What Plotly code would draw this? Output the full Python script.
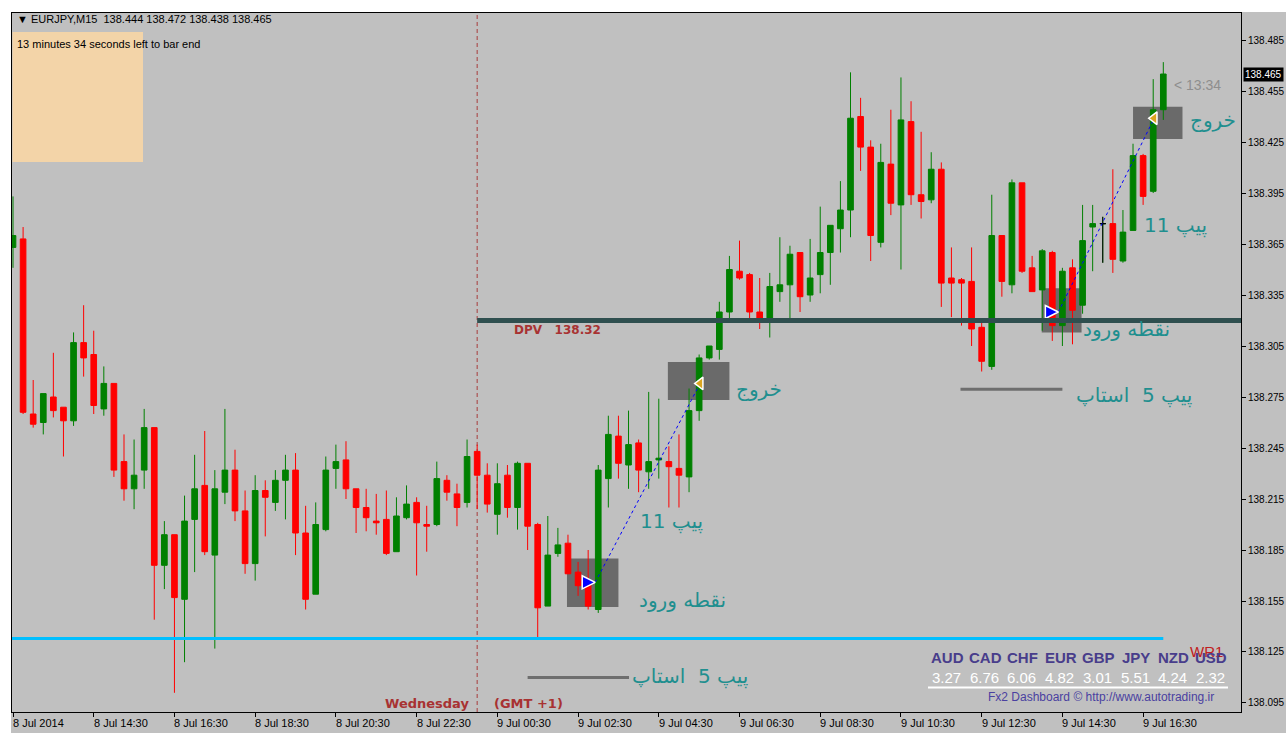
import plotly.graph_objects as go

# ---------------- data ----------------
bar_index = list(range(115))
open_ = [138.363, 138.368, 138.265, 138.260, 138.275, 138.269, 138.261, 138.307, 138.300, 138.268,
         138.283, 138.237, 138.221, 138.232, 138.257, 138.176, 138.194, 138.156, 138.203, 138.223,
         138.182, 138.219, 138.232, 138.208, 138.177, 138.220, 138.213, 138.226, 138.232, 138.195,
         138.159, 138.197, 138.233, 138.238, 138.221, 138.210, 138.202, 138.203, 138.184, 138.204,
         138.213, 138.200, 138.200, 138.226, 138.218, 138.213, 138.243, 138.229, 138.206, 138.229,
         138.210, 138.236, 138.200, 138.152, 138.183, 138.189, 138.172, 138.166, 138.150, 138.227,
         138.252, 138.235, 138.248, 138.231, 138.238, 138.237, 138.233, 138.228, 138.267, 138.298,
         138.303, 138.325, 138.349, 138.347, 138.325, 138.321, 138.337, 138.341, 138.360, 138.335,
         138.347, 138.360, 138.374, 138.385, 138.440, 138.422, 138.366, 138.412, 138.388, 138.437,
         138.394, 138.391, 138.409, 138.345, 138.344, 138.343, 138.316, 138.293, 138.370, 138.341,
         138.401, 138.351, 138.338, 138.360, 138.317, 138.351, 138.329, 138.375, 138.377, 138.377,
         138.355, 138.373, 138.417, 138.396, 138.444]
high = [138.393, 138.375, 138.285, 138.277, 138.301, 138.269, 138.313, 138.329, 138.314, 138.293,
        138.283, 138.253, 138.250, 138.268, 138.257, 138.202, 138.194, 138.217, 138.241, 138.255,
        138.232, 138.268, 138.244, 138.220, 138.229, 138.226, 138.232, 138.241, 138.242, 138.211,
        138.213, 138.240, 138.247, 138.249, 138.221, 138.221, 138.218, 138.220, 138.216, 138.223,
        138.216, 138.211, 138.237, 138.229, 138.224, 138.250, 138.247, 138.236, 138.236, 138.235,
        138.237, 138.236, 138.201, 138.205, 138.198, 138.194, 138.178, 138.185, 138.235, 138.264,
        138.264, 138.267, 138.250, 138.278, 138.274, 138.246, 138.253, 138.280, 138.300, 138.305,
        138.331, 138.358, 138.367, 138.348, 138.345, 138.348, 138.369, 138.364, 138.360, 138.368,
        138.387, 138.376, 138.402, 138.466, 138.451, 138.426, 138.424, 138.444, 138.463, 138.449,
        138.431, 138.419, 138.413, 138.363, 138.345, 138.363, 138.319, 138.394, 138.370, 138.403,
        138.401, 138.358, 138.362, 138.361, 138.351, 138.356, 138.388, 138.388, 138.381, 138.409,
        138.385, 138.424, 138.418, 138.462, 138.472]
low = [138.351, 138.265, 138.257, 138.253, 138.263, 138.240, 138.258, 138.287, 138.265, 138.264,
       138.228, 138.214, 138.209, 138.221, 138.144, 138.162, 138.101, 138.119, 138.172, 138.182,
       138.127, 138.212, 138.202, 138.171, 138.167, 138.193, 138.208, 138.203, 138.182, 138.150,
       138.159, 138.196, 138.221, 138.215, 138.195, 138.196, 138.194, 138.182, 138.184, 138.203,
       138.170, 138.184, 138.199, 138.214, 138.199, 138.210, 138.209, 138.207, 138.194, 138.204,
       138.197, 138.185, 138.133, 138.152, 138.181, 138.171, 138.158, 138.150, 138.148, 138.210,
       138.227, 138.221, 138.219, 138.221, 138.227, 138.210, 138.210, 138.219, 138.261, 138.297,
       138.297, 138.319, 138.344, 138.321, 138.315, 138.310, 138.331, 138.320, 138.325, 138.331,
       138.336, 138.341, 138.360, 138.369, 138.408, 138.355, 138.363, 138.382, 138.350, 138.388,
       138.380, 138.389, 138.328, 138.322, 138.317, 138.305, 138.290, 138.291, 138.334, 138.336,
       138.348, 138.337, 138.314, 138.308, 138.305, 138.306, 138.324, 138.349, 138.354, 138.348,
       138.354, 138.373, 138.388, 138.395, 138.438]
close = [138.370, 138.266, 138.259, 138.277, 138.267, 138.261, 138.307, 138.298, 138.270, 138.283,
         138.232, 138.221, 138.229, 138.257, 138.176, 138.194, 138.157, 138.202, 138.221, 138.184,
         138.221, 138.232, 138.208, 138.177, 138.220, 138.216, 138.226, 138.232, 138.195, 138.156,
         138.200, 138.232, 138.237, 138.221, 138.210, 138.204, 138.201, 138.183, 138.205, 138.212,
         138.201, 138.199, 138.227, 138.219, 138.210, 138.240, 138.229, 138.212, 138.224, 138.210,
         138.236, 138.199, 138.151, 138.182, 138.188, 138.171, 138.164, 138.152, 138.232, 138.253,
         138.236, 138.247, 138.232, 138.237, 138.239, 138.234, 138.229, 138.267, 138.298, 138.305,
         138.325, 138.350, 138.345, 138.325, 138.321, 138.340, 138.341, 138.359, 138.334, 138.345,
         138.360, 138.376, 138.385, 138.439, 138.422, 138.370, 138.413, 138.389, 138.438, 138.394,
         138.390, 138.409, 138.342, 138.342, 138.342, 138.315, 138.296, 138.370, 138.343, 138.401,
         138.349, 138.337, 138.361, 138.317, 138.349, 138.326, 138.367, 138.377, 138.377, 138.356,
         138.372, 138.417, 138.393, 138.444, 138.465]
doji_bars = [108]

tick_bars = [0, 8, 16, 24, 32, 40, 48, 56, 64, 72, 80, 88, 96, 104, 112]
tick_labels = ["8 Jul 2014", "8 Jul 14:30", "8 Jul 16:30", "8 Jul 18:30", "8 Jul 20:30",
               "8 Jul 22:30", "9 Jul 00:30", "9 Jul 02:30", "9 Jul 04:30", "9 Jul 06:30",
               "9 Jul 08:30", "9 Jul 10:30", "9 Jul 12:30", "9 Jul 14:30", "9 Jul 16:30"]
price_ticks = [138.485, 138.455, 138.425, 138.395, 138.365, 138.335, 138.305,
               138.275, 138.245, 138.215, 138.185, 138.155, 138.125, 138.095]

current_price = 138.465
dpv_level = 138.32
dpv_start_bar = 46
wr1_level = 138.133
wr1_end_bar = 114
day_separator_bar = 46

entry_bars = [57.7, 103.6]
entry_prices = [138.166, 138.325]
exit_bars = [68.1, 113.1]
exit_prices = [138.283, 138.439]
entry_box_bars = [(54.9, 60.0), (101.95, 105.9)]
entry_box_prices = [(138.1515, 138.180), (138.313, 138.339)]
exit_box_bars = [(64.9, 71.0), (111.0, 115.9)]
exit_box_prices = [(138.2732, 138.2956), (138.4268, 138.4458)]
stop_bars = [(51.0, 61.05), (93.9, 104.0)]
stop_prices = [138.110, 138.2795]

currencies = ["AUD", "CAD", "CHF", "EUR", "GBP", "JPY", "NZD", "USD"]
strengths = [3.27, 6.76, 6.06, 4.82, 3.01, 5.51, 4.24, 2.32]

# ---------------- geometry helpers (pixel -> paper) ----------------
W, H = 1286, 733
L, R, T, B = 12, 45, 13, 21
PW, PH = W - L - R, H - T - B


def px(x):
    return (x - L) / PW


def py(y):
    return (H - B - y) / PH


fig = go.Figure()

fig.add_trace(go.Candlestick(
    x=bar_index, open=open_, high=high, low=low, close=close,
    increasing=dict(line=dict(color="#008000", width=1), fillcolor="#008000"),
    decreasing=dict(line=dict(color="#ff0000", width=1), fillcolor="#ff0000"),
    whiskerwidth=0, hoverinfo="skip", showlegend=False))

fig.add_trace(go.Candlestick(
    x=[bar_index[i] for i in doji_bars], open=[open_[i] for i in doji_bars],
    high=[high[i] for i in doji_bars], low=[low[i] for i in doji_bars],
    close=[close[i] for i in doji_bars],
    increasing=dict(line=dict(color="#000000", width=1), fillcolor="#000000"),
    decreasing=dict(line=dict(color="#000000", width=1), fillcolor="#000000"),
    whiskerwidth=0, hoverinfo="skip", showlegend=False))

# trade lines
for eb, ep, xb, xp in zip(entry_bars, entry_prices, exit_bars, exit_prices):
    fig.add_trace(go.Scatter(x=[eb, xb], y=[ep, xp], mode="lines",
                             line=dict(color="#0000ff", width=1, dash="dot"),
                             hoverinfo="skip", showlegend=False))
fig.add_trace(go.Scatter(x=entry_bars, y=entry_prices, mode="markers",
                         marker=dict(symbol="arrow-right", size=13, color="#0000ff",
                                     line=dict(color="white", width=1.5)),
                         hoverinfo="skip", showlegend=False))
fig.add_trace(go.Scatter(x=exit_bars, y=exit_prices, mode="markers",
                         marker=dict(symbol="triangle-left", size=11, color="#daa520",
                                     line=dict(color="white", width=1.5)),
                         hoverinfo="skip", showlegend=False))

shapes = []
# white outer strips
shapes.append(dict(type="rect", xref="paper", yref="paper", x0=px(0), x1=px(W), y0=py(12), y1=py(0),
                   fillcolor="white", line=dict(width=0), layer="above"))
shapes.append(dict(type="rect", xref="paper", yref="paper", x0=px(0), x1=px(11), y0=py(H), y1=py(0),
                   fillcolor="white", line=dict(width=0), layer="above"))
# peach panel
shapes.append(dict(type="rect", xref="paper", yref="paper", x0=px(12.5), x1=px(143), y0=py(162), y1=py(32),
                   fillcolor="#f3d4a8", line=dict(width=0), layer="above"))
# trade boxes
for (b0, b1), (p0, p1) in zip(entry_box_bars + exit_box_bars, entry_box_prices + exit_box_prices):
    shapes.append(dict(type="rect", xref="x", yref="y", x0=b0, x1=b1, y0=p0, y1=p1,
                       fillcolor="#6a6a6a", line=dict(width=0), layer="below"))
# day separator
shapes.append(dict(type="line", xref="x", yref="paper", x0=day_separator_bar, x1=day_separator_bar,
                   y0=0, y1=1, line=dict(color="#a83c3c", width=1, dash="4px,3px"), layer="below"))
# DPV line
shapes.append(dict(type="line", xref="x", yref="y", x0=dpv_start_bar, x1=121.8, y0=dpv_level, y1=dpv_level,
                   line=dict(color="#2f4f4f", width=5), layer="above"))
# WR1 line
shapes.append(dict(type="line", xref="x", yref="y", x0=-0.2, x1=wr1_end_bar, y0=wr1_level, y1=wr1_level,
                   line=dict(color="#00bfff", width=3), layer="above"))
# stop lines
for (b0, b1), p in zip(stop_bars, stop_prices):
    shapes.append(dict(type="line", xref="x", yref="y", x0=b0, x1=b1, y0=p, y1=p,
                       line=dict(color="#6e6e6e", width=3), layer="above"))
# dashboard underline
shapes.append(dict(type="line", xref="paper", yref="paper", x0=px(928), x1=px(1228), y0=py(687.5), y1=py(687.5),
                   line=dict(color="white", width=2), layer="above"))

ann = []
LIB = "Liberation Sans"
# x tick labels
for b, t in zip(tick_bars, tick_labels):
    ann.append(dict(x=b, xref="x", y=0, yref="paper", yanchor="top", xanchor="left", xshift=-2, yshift=-3,
                    text=t, showarrow=False, font=dict(family=LIB, size=11, color="black")))
# current price tag
ann.append(dict(x=1, xref="paper", y=current_price, yref="y", xanchor="left", yanchor="middle", xshift=2,
                text=f"{current_price:.3f}", showarrow=False, bgcolor="black", borderpad=1,
                font=dict(family=LIB, size=10, color="white")))
# header
ann.append(dict(x=px(15), y=py(19), xref="paper", yref="paper", xanchor="left", yanchor="middle",
                text="▼ EURJPY,M15\u00a0\u00a0138.444 138.472 138.438 138.465", showarrow=False,
                font=dict(family=LIB, size=11, color="black")))
ann.append(dict(x=px(15), y=py(44), xref="paper", yref="paper", xanchor="left", yanchor="middle",
                text="13 minutes 34 seconds left to bar end", showarrow=False,
                font=dict(family=LIB, size=11, color="black")))
# countdown
ann.append(dict(x=px(1172), y=py(85), xref="paper", yref="paper", xanchor="left", yanchor="middle",
                text="< 13:34", showarrow=False, font=dict(family=LIB, size=14, color="#8e8e8e")))
# DPV label
ann.append(dict(x=px(512), y=py(330), xref="paper", yref="paper", xanchor="left", yanchor="middle",
                text="DPV\u00a0\u00a0\u00a0138.32", showarrow=False,
                font=dict(family="DejaVu Sans", size=12, color="#a83232", weight="bold")))
# day separator labels
ann.append(dict(x=day_separator_bar, xref="x", y=py(703), yref="paper", xanchor="right", yanchor="middle",
                xshift=-6, text="Wednesday", showarrow=False,
                font=dict(family="DejaVu Sans", size=13, color="#a83232", weight="bold")))
ann.append(dict(x=day_separator_bar, xref="x", y=py(703), yref="paper", xanchor="left", yanchor="middle",
                xshift=15, text="(GMT +1)", showarrow=False,
                font=dict(family="DejaVu Sans", size=13, color="#a83232", weight="bold")))
# Persian trade labels
TEAL = "#1f8f8f"
persian = [("خروج", 759, 389), ("پیپ 11", 671, 521), ("نقطه ورود", 682, 600), ("پیپ 5  استاپ", 690, 676),
           ("خروج", 1213, 120), ("پیپ 11", 1175, 225), ("نقطه ورود", 1126, 329), ("پیپ 5  استاپ", 1134, 395)]
for txt, xc, yc in persian:
    ann.append(dict(x=px(xc), y=py(yc), xref="paper", yref="paper", xanchor="center", yanchor="middle",
                    text=txt, showarrow=False, font=dict(family="DejaVu Sans", size=20, color=TEAL)))
# WR1 label
ann.append(dict(x=px(1206), y=py(651), xref="paper", yref="paper", xanchor="center", yanchor="middle",
                text="WR1", showarrow=False, font=dict(family=LIB, size=15, color="#c02020")))
# dashboard
for i, (c, s) in enumerate(zip(currencies, strengths)):
    xc = 947.5 + i * 37.7
    ann.append(dict(x=px(xc), y=py(657), xref="paper", yref="paper", xanchor="center", yanchor="middle",
                    text=c, showarrow=False, font=dict(family=LIB, size=15, color="#483d8b", weight="bold")))
    ann.append(dict(x=px(xc - 1), y=py(677), xref="paper", yref="paper", xanchor="center", yanchor="middle",
                    text=f"{s:.2f}", showarrow=False, font=dict(family=LIB, size=15, color="white")))
ann.append(dict(x=px(1101), y=py(697), xref="paper", yref="paper", xanchor="center", yanchor="middle",
                text="Fx2 Dashboard © http://www.autotrading.ir", showarrow=False,
                font=dict(family=LIB, size=12, color="#4a40a0")))

fig.update_layout(
    width=W, height=H, margin=dict(l=L, r=R, t=T, b=B, autoexpand=False),
    paper_bgcolor="#c0c0c0", plot_bgcolor="#c0c0c0", showlegend=False,
    boxgap=0.3, boxgroupgap=0.2,
    xaxis=dict(range=[-0.1, 121.7], rangeslider=dict(visible=False), tickvals=tick_bars,
               ticks="outside", ticklen=4, tickcolor="black", showticklabels=False, automargin=False,
               showgrid=False, zeroline=False, showline=True, linecolor="black", linewidth=1, mirror=True,
               fixedrange=True),
    yaxis=dict(side="right", range=[138.0897, 138.5009], tickvals=price_ticks, automargin=False,
               ticktext=[f"{v:.3f}" for v in price_ticks], ticks="outside", ticklen=4, tickcolor="black",
               tickfont=dict(family=LIB, size=10, color="black"),
               showgrid=False, zeroline=False, showline=True, linecolor="black", linewidth=1, mirror=True,
               fixedrange=True),
    shapes=shapes, annotations=ann,
)

fig.write_html("out.html", config={"displayModeBar": False})
